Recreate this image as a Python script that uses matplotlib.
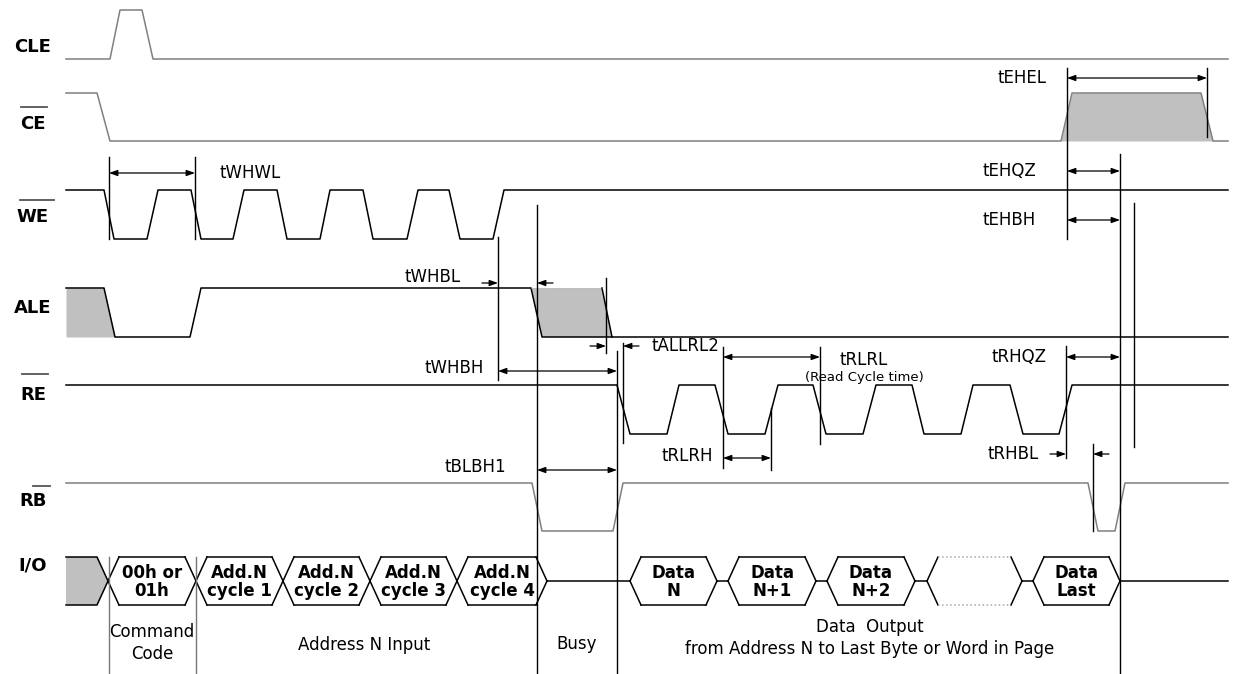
"""
read cycle timing diagram (NAND flash page read), drawn on a pixel-like grid
"""
import numpy as np
import matplotlib.pyplot as plt

# ---------------- data ----------------
X_START = 66
X_END = 1228

# signal rows: (high y, low y) in picture coordinates (y grows downward)
ROWS = {
    "CLE": (10, 59),
    "CE": (93, 141),
    "WE": (190, 239),
    "ALE": (288, 337),
    "RE": (385, 434),
    "RB": (483, 531),
}
START_LEVEL = {"CLE": 0, "CE": 1, "WE": 1, "ALE": 1, "RE": 1, "RB": 1}

# each edge toggles the level: (edge start, edge end)
CLE_EDGES = [(110, 120), (142, 153)]
CE_EDGES = [(97, 110), (1061, 1072), (1201, 1213)]
WE_EDGES = [(104, 114), (147, 158), (191, 201), (233, 244), (277, 287),
            (320, 330), (363, 373), (407, 418), (449, 460), (493, 504)]
ALE_EDGES = [(104, 115), (190, 201), (531, 542)]
RE_EDGES = [(617, 630), (667, 679), (715, 728), (765, 778), (813, 826),
            (863, 876), (912, 924), (961, 973), (1010, 1023), (1059, 1072)]
RB_EDGES = [(532, 542), (613, 623), (1088, 1098), (1115, 1125)]
EDGES = {"CLE": CLE_EDGES, "CE": CE_EDGES, "WE": WE_EDGES,
         "ALE": ALE_EDGES, "RE": RE_EDGES, "RB": RB_EDGES}
SIGNAL_COLOR = {"CLE": "#808080", "CE": "#808080", "WE": "black",
                "ALE": "black", "RE": "black", "RB": "#808080"}

# shaded (don't care) spans on a waveform: (signal, from x, to x)
SHADED = [("ALE", X_START, 115), ("CE", 1061, 1213)]
# ALE uncertain falling edge: earliest edge, latest edge
ALE_WINDOW = [(531, 542), (602, 612)]

# I/O bus
IO_TOP, IO_BOT = 557, 605
IO_SLANT = 11
IO_GRAY_END = 108
IO_CELLS = [  # (left crossing, right crossing, text)
    (108, 196, "00h or\n01h"),
    (196, 283, "Add.N\ncycle 1"),
    (283, 370, "Add.N\ncycle 2"),
    (370, 457, "Add.N\ncycle 3"),
    (457, 547, "Add.N\ncycle 4"),
    (630, 717, "Data\nN"),
    (728, 816, "Data\nN+1"),
    (827, 915, "Data\nN+2"),
    (927, 1022, ""),
    (1033, 1120, "Data\nLast"),
]

# labels of the rows
LABELS = ["CLE", "CE", "WE", "ALE", "RE", "RB", "I/O"]
LABEL_Y = [47, 124, 217, 308, 395, 501, 565]
# overbars: (x from, x to, y)
OVERBARS = [(21, 47, 107), (20, 54, 200), (22, 48, 374), (33, 50, 486)]

# timing markers: (text, x1, x2, y, kind, text x, text y, text align)
TIMINGS = [
    ("tWHWL", 109, 195, 173, "in", 220, 173, "left"),
    ("tEHEL", 1067, 1207, 78, "in", 1046, 78, "right"),
    ("tEHQZ", 1067, 1120, 171, "in", 1036, 171, "right"),
    ("tEHBH", 1067, 1120, 220, "in", 1036, 220, "right"),
    ("tWHBL", 498, 537, 283, "out", 461, 277, "right"),
    ("tWHBH", 498, 617, 371, "in", 484, 368, "right"),
    ("tALLRL2", 606, 623, 346, "out", 651, 346, "left"),
    ("tRLRL", 723, 820, 357, "in", 864, 360, "center"),
    ("tRLRH", 723, 771, 458, "in", 713, 456, "right"),
    ("tRHQZ", 1066, 1120, 357, "in", 1047, 357, "right"),
    ("tRHBL", 1066, 1093, 454, "out", 1039, 454, "right"),
    ("tBLBH1", 537, 617, 470, "in", 506, 467, "right"),
]

# vertical reference lines: (x, y top, y bottom, color)
VLINES = [
    (109, 157, 239, "black"), (195, 157, 239, "black"),
    (1067, 68, 239, "black"), (1207, 68, 137, "black"),
    (1120, 154, 674, "black"), (1134, 203, 447, "black"),
    (498, 237, 380, "black"), (537, 205, 674, "black"),
    (606, 278, 353, "black"), (617, 351, 674, "black"),
    (623, 343, 443, "black"), (723, 347, 468, "black"),
    (771, 408, 470, "black"), (820, 347, 444, "black"),
    (1066, 346, 458, "black"), (1093, 444, 531, "black"),
    (109, 557, 674, "#777777"), (196, 557, 674, "#777777"),
]

# phase captions under the bus: (text, x, y)
PHASES = [
    ("Command\nCode", 152, 643),
    ("Address N Input", 364, 645),
    ("Busy", 577, 644),
    ("Data  Output\nfrom Address N to Last Byte or Word in Page", 870, 638),
]


def waveform(level, edges, y_hi, y_lo):
    """turn a list of edges into a polyline"""
    xs = [X_START]
    ys = [y_hi if level else y_lo]
    for a, b in edges:
        xs.append(a)
        ys.append(y_hi if level else y_lo)
        level = 1 - level
        xs.append(b)
        ys.append(y_hi if level else y_lo)
    xs.append(X_END)
    ys.append(y_hi if level else y_lo)
    return np.array(xs, float), np.array(ys, float)


if __name__ == "__main__":
    fig = plt.figure(figsize=(12.35, 6.74), dpi=100)
    ax = fig.add_axes([0, 0, 1, 1])
    ax.set_xlim(0, 1235)
    ax.set_ylim(674, 0)
    ax.axis("off")

    lw = 1.1
    gray_fill = "#c0c0c0"

    # waveforms
    waves = {}
    for name, (y_hi, y_lo) in ROWS.items():
        xs, ys = waveform(START_LEVEL[name], EDGES[name], y_hi, y_lo)
        waves[name] = (xs, ys)
        ax.plot(xs, ys, color=SIGNAL_COLOR[name], lw=lw, zorder=3)

    # shaded spans
    for name, xa, xb in SHADED:
        xs, ys = waves[name]
        grid = np.linspace(xa, xb, 400)
        ax.fill_between(grid, np.interp(grid, xs, ys), ROWS[name][1],
                        color=gray_fill, lw=0, zorder=2)

    # ALE uncertain window
    y_hi, y_lo = ROWS["ALE"]
    (a1, b1), (a2, b2) = ALE_WINDOW
    ax.fill([a1, a2, b2, b1], [y_hi, y_hi, y_lo, y_lo], color=gray_fill, lw=0, zorder=2)
    ax.plot([a2, b2], [y_hi, y_lo], color="black", lw=lw, zorder=3)
    ax.plot([a1, a2], [y_hi, y_hi], color="#bbbbbb", lw=0.8, ls=":", zorder=3)

    # I/O bus
    mid = (IO_TOP + IO_BOT) / 2
    s = IO_SLANT
    ax.fill([X_START, IO_GRAY_END - s, IO_GRAY_END, IO_GRAY_END - s, X_START],
            [IO_TOP, IO_TOP, mid, IO_BOT, IO_BOT], color=gray_fill, lw=0, zorder=2)
    ax.plot([X_START, IO_GRAY_END - s, IO_GRAY_END, IO_GRAY_END - s, X_START],
            [IO_TOP, IO_TOP, mid, IO_BOT, IO_BOT], color="black", lw=lw, zorder=3)
    prev = None
    for xl, xr, txt in IO_CELLS:
        if prev is not None and xl > prev:
            ax.plot([prev, xl], [mid, mid], color="black", lw=lw, zorder=3)
        # the empty cell has faint dotted top / bottom edges
        edge_col, edge_ls = ("black", "-") if txt else ("#aaaaaa", ":")
        ax.plot([xl, xl + s], [mid, IO_TOP], color="black", lw=lw, zorder=3)
        ax.plot([xl, xl + s], [mid, IO_BOT], color="black", lw=lw, zorder=3)
        ax.plot([xr - s, xr], [IO_TOP, mid], color="black", lw=lw, zorder=3)
        ax.plot([xr - s, xr], [IO_BOT, mid], color="black", lw=lw, zorder=3)
        ax.plot([xl + s, xr - s], [IO_TOP, IO_TOP], color=edge_col, ls=edge_ls, lw=lw, zorder=3)
        ax.plot([xl + s, xr - s], [IO_BOT, IO_BOT], color=edge_col, ls=edge_ls, lw=lw, zorder=3)
        if txt:
            ax.text((xl + xr) / 2, mid + 1, txt, ha="center", va="center",
                    fontsize=12, fontweight="bold", linespacing=1.05, zorder=4)
        prev = xr
    ax.plot([prev, X_END], [mid, mid], color="black", lw=lw, zorder=3)

    # vertical reference lines
    for x, y0, y1, c in VLINES:
        ax.plot([x, x], [y0, y1], color=c, lw=1.0, zorder=3)

    # timing arrows
    head = dict(color="black", lw=0.9, shrinkA=0, shrinkB=0)
    for txt, x1, x2, y, kind, tx, ty, ha in TIMINGS:
        if kind == "in":
            ax.annotate("", xy=(x2, y), xytext=(x1, y),
                        arrowprops=dict(arrowstyle="<|-|>,head_length=0.5,head_width=0.18", **head))
        else:
            ax.annotate("", xy=(x1, y), xytext=(x1 - 16, y),
                        arrowprops=dict(arrowstyle="-|>,head_length=0.5,head_width=0.18", **head))
            ax.annotate("", xy=(x2, y), xytext=(x2 + 16, y),
                        arrowprops=dict(arrowstyle="-|>,head_length=0.5,head_width=0.18", **head))
        ax.text(tx, ty, txt, ha=ha, va="center", fontsize=12, zorder=4)
    ax.text(864, 378, "(Read Cycle time)", ha="center", va="center", fontsize=9.5, zorder=4)

    # row labels
    for name, y in zip(LABELS, LABEL_Y):
        ax.text(33, y, name, ha="center", va="center", fontsize=13, fontweight="bold")
    for x0, x1, y in OVERBARS:
        ax.plot([x0, x1], [y, y], color="#555555", lw=1.3)

    # phase captions
    for txt, x, y in PHASES:
        ax.text(x, y, txt, ha="center", va="center", fontsize=12, linespacing=1.25)

    fig.savefig("out.png", dpi=100, facecolor="white")
